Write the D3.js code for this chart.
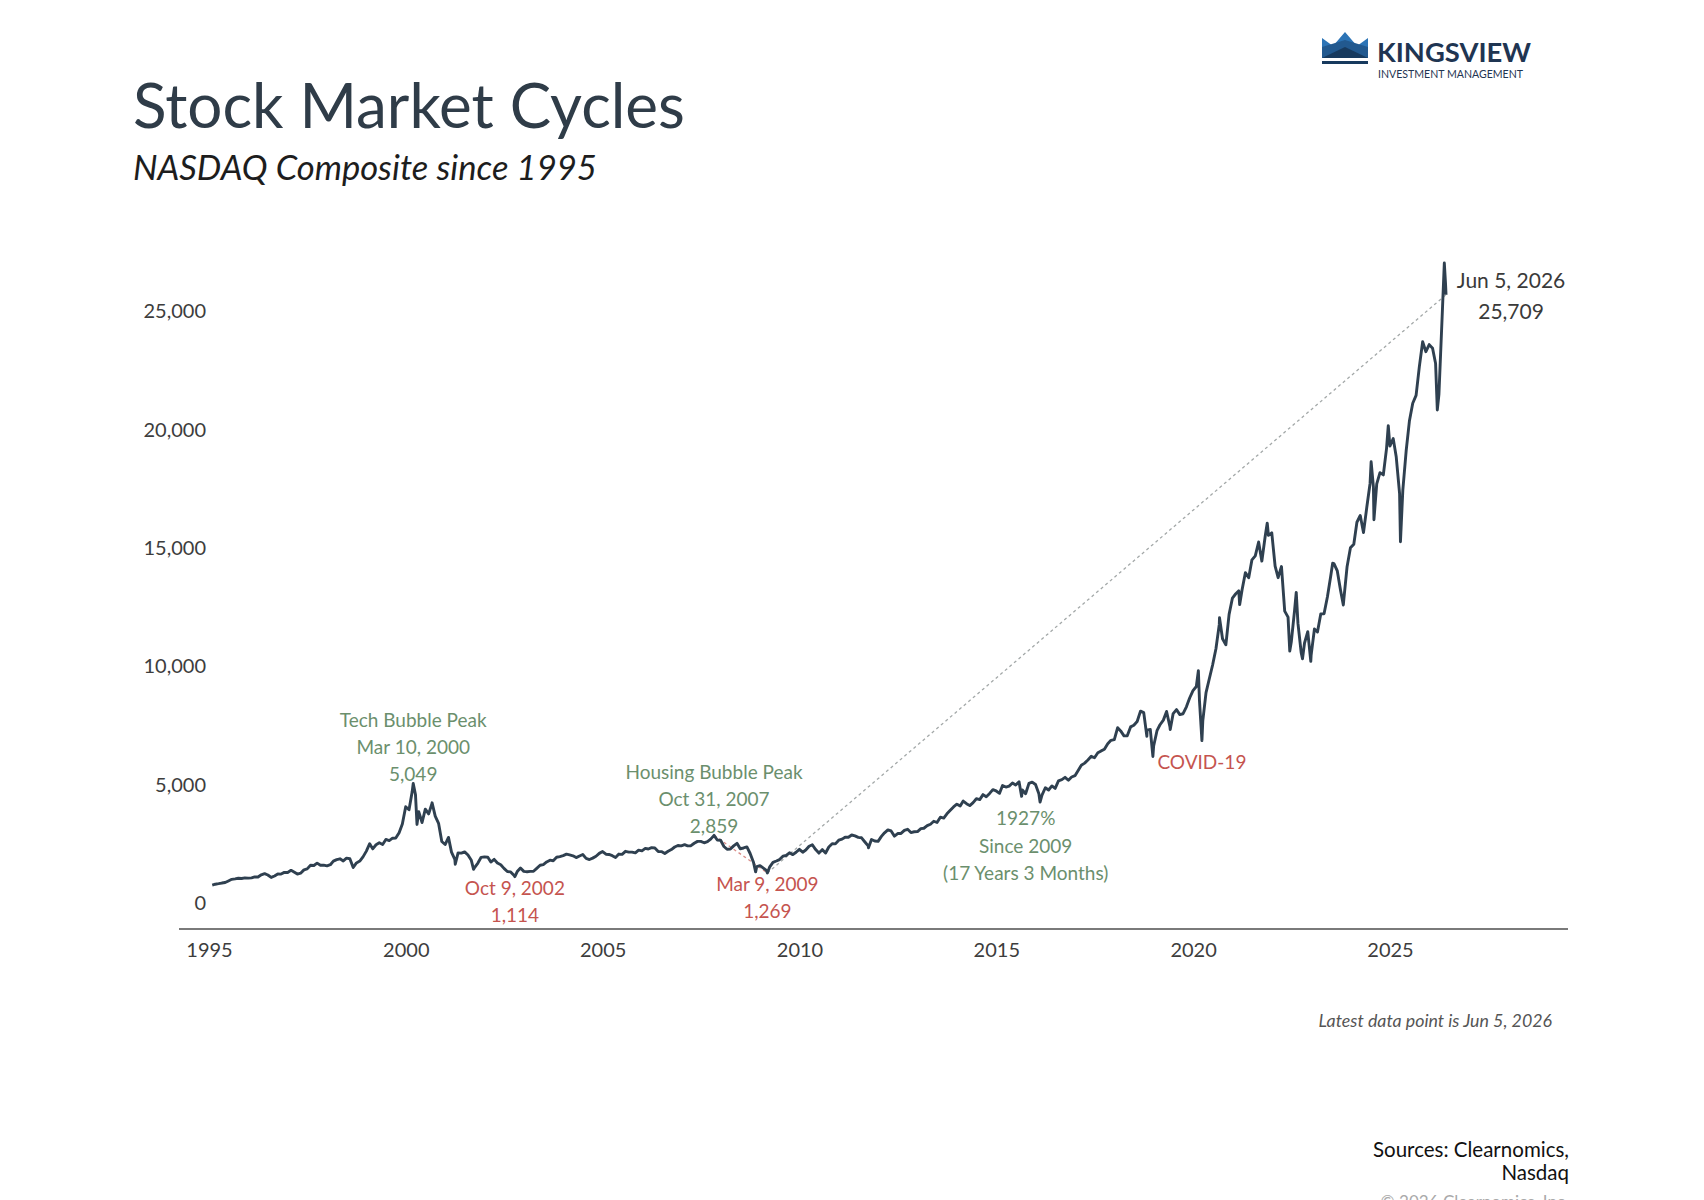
<!DOCTYPE html>
<html>
<head>
<meta charset="utf-8">
<script src="https://cdn.jsdelivr.net/npm/d3@7"></script>
<style>
  html, body { margin: 0; padding: 0; background: #fff; }
  svg { display: block; }
</style>
</head>
<body>
<div id="chart"></div>
<script>
// NASDAQ Composite, month-end closes, starting Jan 1995
const startYear = 1995;
const monthlyClose = [
  755, 794, 817, 843, 864, 933, 1001, 1020, 1044, 1036, 1059, 1052,
  1060, 1100, 1101, 1191, 1243, 1185, 1081, 1141, 1227, 1222, 1293, 1291,
  1380, 1309, 1222, 1261, 1400, 1442, 1594, 1587, 1686, 1594, 1601, 1570,
  1619, 1771, 1835, 1868, 1779, 1895, 1872, 1499, 1694, 1771, 1950, 2193,
  2506, 2288, 2461, 2543, 2471, 2686, 2638, 2739, 2746, 2966, 3336, 4069,
  3940, 4697, 4573, 3861, 3401, 3966, 3767, 4206, 3673, 3370, 2598, 2471,
  2773, 2152, 1840, 2116, 2110, 2161, 2027, 1805, 1499, 1690, 1931, 1950,
  1934, 1731, 1845, 1688, 1616, 1463, 1329, 1315, 1172, 1330, 1479, 1336,
  1321, 1338, 1341, 1464, 1596, 1623, 1735, 1810, 1787, 1932, 1960, 2003,
  2066, 2030, 1994, 1920, 1987, 2048, 1887, 1838, 1897, 1975, 2097, 2175,
  2062, 2052, 1999, 1922, 2068, 2057, 2185, 2152, 2152, 2120, 2233, 2205,
  2306, 2281, 2340, 2323, 2179, 2172, 2091, 2184, 2258, 2367, 2432, 2415,
  2464, 2416, 2422, 2525, 2605, 2603, 2546, 2596, 2701, 2859, 2661, 2652,
  2390, 2271, 2279, 2413, 2523, 2293, 2326, 2368, 2092, 1721, 1536, 1577,
  1476, 1378, 1529, 1717, 1774, 1835, 1979, 2009, 2122, 2045, 2145, 2269,
  2147, 2238, 2398, 2461, 2257, 2109, 2255, 2114, 2369, 2507, 2498, 2653,
  2700, 2782, 2781, 2874, 2835, 2774, 2756, 2579, 2415, 2684, 2620, 2605,
  2814, 2967, 3092, 3046, 2827, 2935, 2940, 3067, 3116, 2977, 3010, 3020,
  3142, 3160, 3268, 3329, 3456, 3403, 3626, 3590, 3771, 3920, 4060, 4177,
  4104, 4308, 4199, 4115, 4243, 4408, 4370, 4580, 4493, 4631, 4792, 4736,
  4635, 4964, 4901, 4941, 5070, 4987, 5128, 4777, 4620, 5054, 5109, 5007,
  4614, 4558, 4870, 4775, 4948, 4843, 5162, 5213, 5312, 5189, 5324, 5383,
  5615, 5825, 5912, 6048, 6199, 6140, 6348, 6429, 6496, 6728, 6874, 6903,
  7411, 7273, 7063, 7066, 7442, 7510, 7672, 8110, 8046, 7306, 7331, 6635,
  7282, 7533, 7729, 8095, 7453, 8006, 8175, 7963, 7999, 8292, 8665, 8973,
  9151, 8567, 7700, 8890, 9490, 10059, 10745, 11775, 11168, 10912, 12199, 12888,
  13071, 13192, 13247, 13962, 13749, 14504, 14673, 15259, 14448, 15498, 15538, 15645,
  14240, 13751, 14221, 12335, 12081, 11029, 12391, 11816, 10576, 10989, 11468, 10466,
  11585, 11456, 12222, 12226, 12935, 13788, 14346, 14035, 13219, 12851, 14226, 15011,
  15164, 16092, 16379, 15658, 16735, 17733, 17599, 17714, 18189, 18095, 19218, 19311,
  19627, 18847, 17299, 17446, 19114, 20370, 21122, 21456, 22660, 23724, 23300, 23600,
  23450, 22800, 21500, 24800, 26200
];

// intra-month highs and lows that show on the chart
const extremeDates = [
  "2000-03-10", "2000-04-14", "2000-09-01", "2001-04-04", "2001-09-21",
  "2002-10-09", "2008-11-20", "2009-03-09", "2011-10-03", "2015-08-24",
  "2016-02-11", "2018-10-29", "2018-12-24", "2019-06-03", "2020-02-19",
  "2020-03-23", "2020-09-02", "2021-03-08", "2021-11-19", "2022-06-16",
  "2022-08-15", "2022-10-12", "2022-12-28", "2023-07-19", "2023-10-26",
  "2024-07-10", "2024-08-05", "2024-12-16", "2025-04-08", "2026-03-16",
  "2026-05-20", "2026-06-05"
];
const extremeValues = [
  5049, 3321, 4234, 1638, 1423,
  1114, 1316, 1269, 2335, 4506,
  4267, 7050, 6193, 7333, 9817,
  6861, 12056, 12609, 16057, 10646,
  13128, 10321, 10213, 14358, 12596,
  18647, 16200, 20174, 15268, 20840,
  27050, 25709
];

const yTicks = [0, 5000, 10000, 15000, 20000, 25000];
const xTickYears = [1995, 2000, 2005, 2010, 2015, 2020, 2025];

// annotations: anchor date/value and text lines
const noteDates = ["2000-03-10", "2002-10-09", "2007-10-31", "2009-03-09", "2020-03-23", "2026-06-05"];
const noteValues = [5049, 1114, 2859, 1269, 6861, 25709];
const noteLines = [
  ["Tech Bubble Peak", "Mar 10, 2000", "5,049"],
  ["Oct 9, 2002", "1,114"],
  ["Housing Bubble Peak", "Oct 31, 2007", "2,859"],
  ["Mar 9, 2009", "1,269"],
  ["COVID-19"],
  ["Jun 5, 2026", "25,709"]
];
const noteKinds = ["peak", "trough", "peak", "trough", "trough", "last"];
const gainLines = ["1927%", "Since 2009", "(17 Years 3 Months)"];
const gainAnchorDate = "2015-10-01";
const gainAnchorValue = 3600;

const W = 1704, H = 1200;
const font = 'Lato, "Source Sans Pro", "Open Sans", sans-serif';
const green = "#6b8f6d", red = "#c5544f", ink = "#2f3c48", lineColor = "#2f4050";

const parse = d3.timeParse("%Y-%m-%d");

const series = monthlyClose.map((v, i) => ({
  date: new Date(startYear, i + 1, 0),
  value: v
})).concat(extremeDates.map((d, i) => ({ date: parse(d), value: extremeValues[i] })))
  .sort((a, b) => a.date - b.date);

const svg = d3.select('#chart').append('svg')
  .attr('width', W).attr('height', H)
  .style('font-family', font);

const x = d3.scaleTime()
  .domain([new Date(1995, 0, 1), new Date(2025, 0, 1)])
  .range([209, 1390]);

const y = d3.scaleLinear()
  .domain([0, 25000])
  .range([903, 311.5]);

function fit(sel, width) {
  const w = sel.node().getComputedTextLength();
  sel.attr('font-size', parseFloat(sel.attr('font-size')) * width / w);
}

// title block
fit(svg.append('text')
  .attr('x', 133).attr('y', 128)
  .attr('font-size', 64)
  .attr('fill', ink)
  .text('Stock Market Cycles'), 552);

fit(svg.append('text')
  .attr('x', 133).attr('y', 180)
  .attr('font-size', 36)
  .attr('font-style', 'italic')
  .attr('fill', '#1d1d1d')
  .text('NASDAQ Composite since 1995'), 464);

// logo
const logo = svg.append('g');
logo.append('polygon')
  .attr('points', '1322,38 1333,46 1345,32 1357,46 1368,38 1368,58 1322,58')
  .attr('fill', '#2c74b6');
logo.append('polygon')
  .attr('points', '1322,47 1345,40 1368,47 1368,58 1322,58')
  .attr('fill', '#22598f');
logo.append('polygon')
  .attr('points', '1322,58 1345,47 1368,58')
  .attr('fill', '#173a5e');
logo.append('rect')
  .attr('x', 1322).attr('y', 61).attr('width', 46).attr('height', 3)
  .attr('fill', '#173a5e');
logo.append('text')
  .attr('x', 1377).attr('y', 62)
  .attr('font-size', 26).attr('font-weight', 700)
  .attr('fill', '#1f3552')
  .attr('textLength', 154).attr('lengthAdjust', 'spacingAndGlyphs')
  .text('KINGSVIEW');
logo.append('text')
  .attr('x', 1378).attr('y', 78)
  .attr('font-size', 11)
  .attr('fill', '#1f3552')
  .attr('textLength', 145).attr('lengthAdjust', 'spacingAndGlyphs')
  .text('INVESTMENT MANAGEMENT');

// y tick labels (no axis line)
const yAxis = d3.axisLeft(y)
  .tickValues(yTicks)
  .tickSize(0)
  .tickPadding(0)
  .tickFormat(d3.format(','));
svg.append('g')
  .attr('transform', 'translate(206,0)')
  .call(yAxis)
  .call(g => g.select('.domain').remove())
  .call(g => g.selectAll('text')
    .attr('font-family', font)
    .attr('font-size', 20)
    .attr('fill', '#3d3d3d'));

// x axis
const axisY = y(-1100);
const xAxis = d3.axisBottom(x)
  .tickValues(xTickYears.map(yr => new Date(yr, 0, 1)))
  .tickSize(0)
  .tickPadding(14)
  .tickFormat(d3.timeFormat('%Y'));
svg.append('g')
  .attr('transform', `translate(0,${axisY})`)
  .call(xAxis)
  .call(g => g.select('.domain').remove())
  .call(g => g.selectAll('text')
    .attr('font-family', font)
    .attr('font-size', 20)
    .attr('fill', '#3d3d3d'));
svg.append('line')
  .attr('x1', 179).attr('x2', 1568)
  .attr('y1', axisY).attr('y2', axisY)
  .attr('stroke', '#7a7a7a').attr('stroke-width', 2);

// connector lines: housing peak to trough, and trough to latest point
const pt = (d, v) => [x(parse(d)), y(v)];
const connectors = [
  [pt(noteDates[2], noteValues[2]), pt(noteDates[3], noteValues[3]), '#d98c88'],
  [pt(noteDates[3], noteValues[3]), pt(noteDates[5], noteValues[5]), '#a3a8a8']
];
svg.append('g').selectAll('line')
  .data(connectors)
  .join('line')
  .attr('x1', d => d[0][0]).attr('y1', d => d[0][1])
  .attr('x2', d => d[1][0]).attr('y2', d => d[1][1])
  .attr('stroke', d => d[2])
  .attr('stroke-width', 1.3)
  .attr('stroke-dasharray', '3,3');

// the index line
const line = d3.line()
  .x(d => x(d.date))
  .y(d => y(d.value));
svg.append('path')
  .datum(series)
  .attr('d', line)
  .attr('fill', 'none')
  .attr('stroke', lineColor)
  .attr('stroke-width', 2.9)
  .attr('stroke-linejoin', 'round');

// annotations
noteLines.forEach((lines, i) => {
  const [px, py] = pt(noteDates[i], noteValues[i]);
  const kind = noteKinds[i];
  const step = kind === 'last' ? 31 : 27;
  let cx = px, top;
  if (kind === 'peak') top = py - 10 - (lines.length - 1) * step;
  else if (kind === 'trough') top = py + 11;
  else { cx = px + 65; top = py - 15; }
  if (lines[0] === 'COVID-19') top = py + 21;
  const color = kind === 'peak' ? green : kind === 'trough' ? red : '#3a3a3a';
  svg.append('g').selectAll('text')
    .data(lines)
    .join('text')
    .attr('x', cx)
    .attr('y', (d, j) => top + j * step)
    .attr('text-anchor', 'middle')
    .attr('dominant-baseline', 'central')
    .attr('font-size', kind === 'last' ? 21 : 19)
    .attr('fill', color)
    .text(d => d);
});

const [gx, gy] = pt(gainAnchorDate, gainAnchorValue);
svg.append('g').selectAll('text')
  .data(gainLines)
  .join('text')
  .attr('x', gx)
  .attr('y', (d, j) => gy + j * 27.5)
  .attr('text-anchor', 'middle')
  .attr('dominant-baseline', 'central')
  .attr('font-size', 19)
  .attr('fill', green)
  .text(d => d);

// footer notes
svg.append('text')
  .attr('x', 1552).attr('y', 1027)
  .attr('text-anchor', 'end')
  .attr('font-size', 17.8).attr('font-style', 'italic')
  .attr('fill', '#555')
  .text('Latest data point is Jun 5, 2026');

svg.append('g').selectAll('text')
  .data(['Sources: Clearnomics,', 'Nasdaq'])
  .join('text')
  .attr('x', 1569)
  .attr('y', (d, j) => 1157 + j * 23)
  .attr('text-anchor', 'end')
  .attr('font-size', 20.5)
  .attr('fill', '#111')
  .text(d => d);

svg.append('text')
  .attr('x', 1569).attr('y', 1208)
  .attr('text-anchor', 'end')
  .attr('font-size', 17)
  .attr('fill', '#aaa')
  .text('© 2026 Clearnomics, Inc.');
</script>
</body>
</html>
